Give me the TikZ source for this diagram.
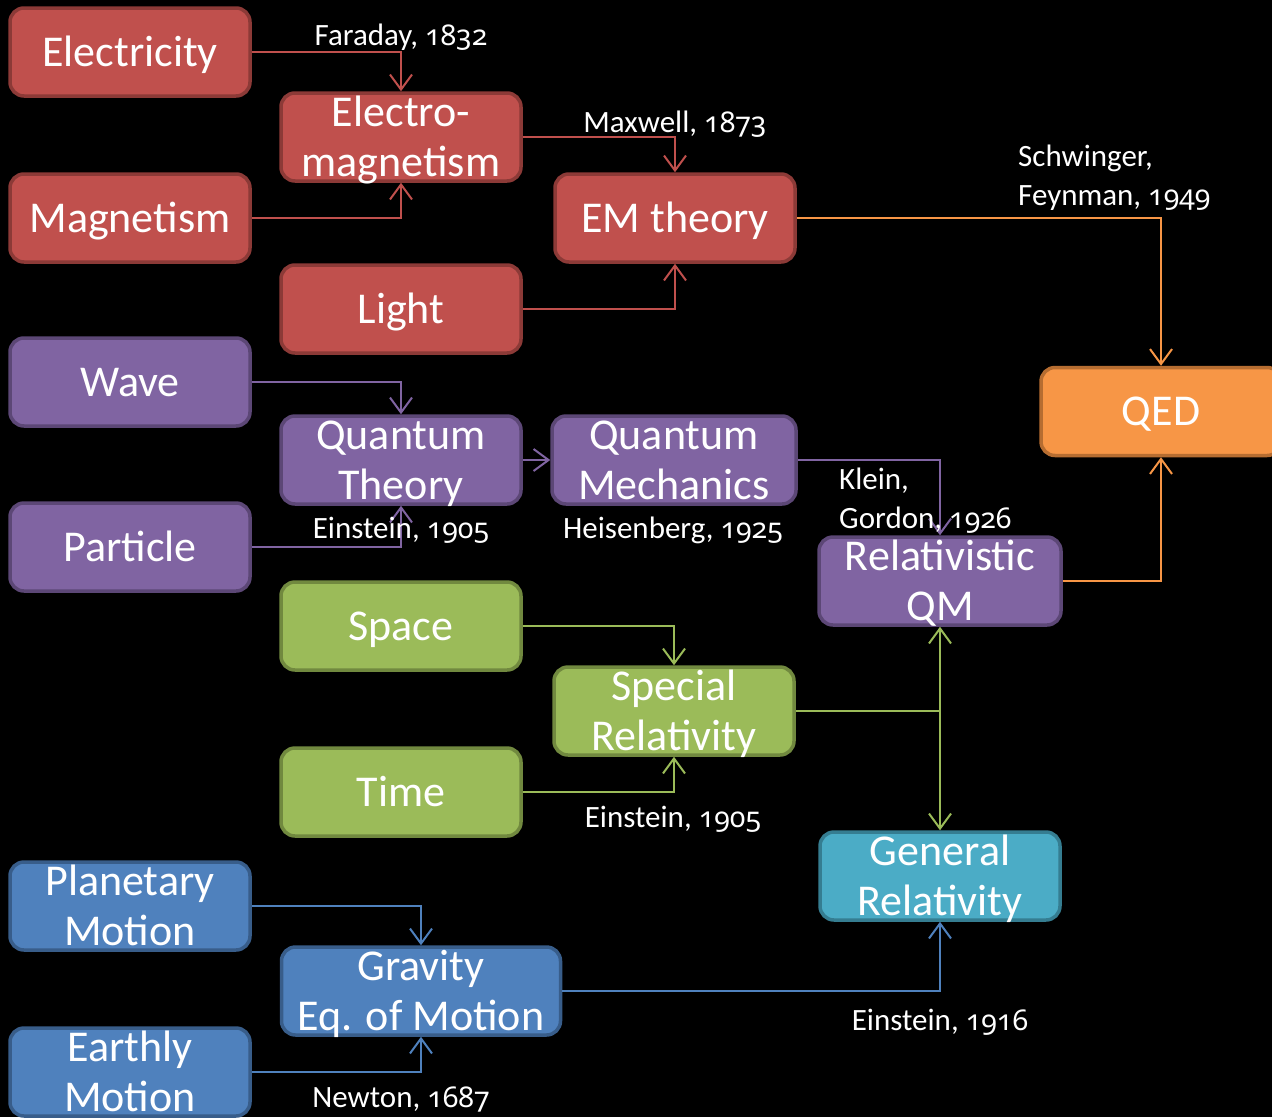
\documentclass[tikz,border=0pt]{standalone}
\usepackage{fontspec}
\setmainfont{Carlito}
\newfontfamily\yearfont{Noto Sans}[Numbers=OldStyle, Scale=0.92]
\usetikzlibrary{arrows.meta}

% box texts: zero-size boxes, cap-height centred on the node
\newcommand\oneline[1]{\raisebox{-14pt}[0pt][0pt]{\makebox[0pt]{#1}}}
\newcommand\twoline[2]{\raisebox{-39pt}[0pt][0pt]{\makebox[0pt]{\begin{tabular}[b]{@{}c@{}}#1\\#2\end{tabular}}}}
% years with old-style figures
\newcommand\yr[1]{{\yearfont #1}}

\definecolor{redF}{HTML}{C0504D}\definecolor{redB}{HTML}{8C3A37}
\definecolor{purF}{HTML}{8064A2}\definecolor{purB}{HTML}{5C4776}
\definecolor{grnF}{HTML}{9BBB59}\definecolor{grnB}{HTML}{71893F}
\definecolor{bluF}{HTML}{4F81BD}\definecolor{bluB}{HTML}{385D8A}
\definecolor{tealF}{HTML}{4BACC6}\definecolor{tealB}{HTML}{357D91}
\definecolor{orgF}{HTML}{F79646}\definecolor{orgB}{HTML}{B66D31}

\tikzset{
  concept/.style={draw, line width=3.5pt, rounded corners=14pt,
    minimum width=240pt, minimum height=88pt, inner sep=0pt,
    text=white, font=\fontsize{44}{50}\selectfont},
  redbox/.style={concept, fill=redF, draw=redB},
  purbox/.style={concept, fill=purF, draw=purB},
  grnbox/.style={concept, fill=grnF, draw=grnB},
  blubox/.style={concept, fill=bluF, draw=bluB},
  tealbox/.style={concept, fill=tealF, draw=tealB},
  orgbox/.style={concept, fill=orgF, draw=orgB},
  link/.style={line width=2pt, -{Straight Barb[length=15pt,width=22pt]}},
  note/.style={text=white, font=\fontsize{31}{39}\selectfont, inner sep=0pt, anchor=base},
  notel/.style={note, anchor=base west, align=left},
}

\begin{document}
\begin{tikzpicture}[x=1pt, y=-1pt]
\fill[black] (0,0) rectangle (1272,1117);
\useasboundingbox (0,0) rectangle (1272,1117);

% electromagnetism branch
\node[redbox] (elec)  at (130,52)  {\oneline{Electricity}};
\node[redbox] (magn)  at (130,218) {\oneline{Magnetism}};
\node[redbox] (emag)  at (401,137) {\twoline{Electro-}{magnetism}};
\node[redbox] (emth)  at (675,218) {\oneline{EM theory}};
\node[redbox] (light) at (401,309) {\oneline{Light}};

% quantum branch
\node[purbox] (wave)  at (130,382) {\oneline{Wave}};
\node[purbox] (qth)   at (401,460) {\twoline{Quantum}{Theory}};
\node[purbox, minimum width=244pt] (qmech) at (674,460) {\twoline{Quantum}{Mechanics}};
\node[purbox] (part)  at (130,547) {\oneline{Particle}};
\node[purbox, minimum width=242pt] (rqm) at (940,581) {\twoline{Relativistic}{QM}};

% QED
\node[orgbox] (qed) at (1161,411.5) {\oneline{QED}};

% relativity branch
\node[grnbox] (space) at (401,626) {\oneline{Space}};
\node[grnbox] (sr)    at (674,711) {\twoline{Special}{Relativity}};
\node[grnbox] (time)  at (401,792) {\oneline{Time}};
\node[tealbox] (gr)   at (940,876) {\twoline{General}{Relativity}};

% mechanics branch
\node[blubox] (plan)  at (130,906) {\twoline{Planetary}{Motion}};
\node[blubox, minimum width=279pt] (grav) at (421,991) {\twoline{Gravity}{Eq. of Motion}};
\node[blubox] (earth) at (130,1072) {\twoline{Earthly}{Motion}};

% connectors
\draw[link, redF] (elec.east) -| (emag.north);
\draw[link, redF] (magn.east) -| (emag.south);
\draw[link, redF] (emag.east) -| (emth.north);
\draw[link, redF] (light.east) -| (emth.south);
\draw[link, orgF] (emth.east) -| (qed.north);
\draw[link, orgF] (rqm.east) -| (qed.south);

\draw[link, purF] (wave.east) -| (qth.north);
\draw[link, purF] (part.east) -| (qth.south);
\draw[link, purF] (qth.east) -- (qmech.west);
\draw[link, purF] (qmech.east) -| (rqm.north);

\draw[link, grnF] (space.east) -| (sr.north);
\draw[link, grnF] (time.east) -| (sr.south);
\draw[link, grnF] (sr.east) -| (rqm.south);
\draw[link, grnF] (sr.east) -| (gr.north);

\draw[link, bluF] (plan.east) -| (grav.north);
\draw[link, bluF] (earth.east) -| (grav.south);
\draw[link, bluF] (grav.east) -| (gr.south);

% discovery notes
\node[note] (n1) at (401,45)   {Faraday, \yr{1832}};
\node[note] (n2) at (675,132)  {Maxwell, \yr{1873}};
\node[notel] (n3) at (1018,166) {\begin{tabular}[t]{@{}l@{}}Schwinger,\\Feynman, \yr{1949}\end{tabular}};
\node[note] (n4) at (401,538)  {Einstein, \yr{1905}};
\node[note] (n5) at (673,538)  {Heisenberg, \yr{1925}};
\node[notel] (n6) at (839,489) {\begin{tabular}[t]{@{}l@{}}Klein,\\Gordon, \yr{1926}\end{tabular}};
\node[note] (n7) at (673,827)  {Einstein, \yr{1905}};
\node[note] (n8) at (940,1030) {Einstein, \yr{1916}};
\node[note] (n9) at (401,1107) {Newton, \yr{1687}};
\end{tikzpicture}
\end{document}
